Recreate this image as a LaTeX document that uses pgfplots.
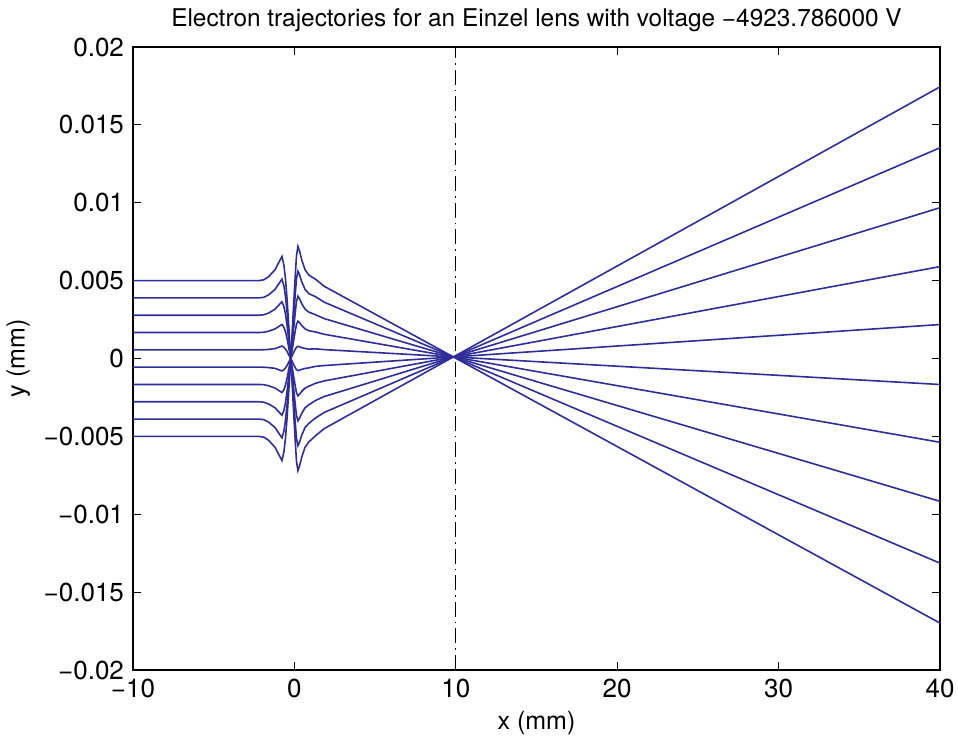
\documentclass[border=0pt]{standalone}
\usepackage{pgfplots}
\pgfplotsset{compat=1.18}
\usepackage{pgfplotstable}
\usepackage{fontspec}
\setmainfont{TeX Gyre Heros}
\definecolor{traj}{RGB}{46,46,150}

% Ten electron trajectories, y (mm) against x (mm); t1..t10 start at
% y0 = 0.005 ... -0.005 in equal steps.
\pgfplotstableread{
x      t1        t2        t3        t4        t5        t6        t7        t8        t9        t10
-10    0.005     0.003889  0.002778  0.001667  0.000556  -0.000556 -0.001667 -0.002778 -0.003889 -0.005
-2.2   0.005     0.003889  0.002778  0.001667  0.000556  -0.000556 -0.001667 -0.002778 -0.003889 -0.005
-1.9   0.00505   0.003928  0.002806  0.001683  0.000561  -0.000561 -0.001683 -0.002806 -0.003928 -0.00505
-1.6   0.00525   0.004083  0.002917  0.00175   0.000583  -0.000583 -0.00175  -0.002917 -0.004083 -0.00525
-1.2   0.0057    0.004433  0.003167  0.0019    0.000633  -0.000633 -0.0019   -0.003167 -0.004433 -0.0057
-0.9   0.0063    0.0049    0.0035    0.0021    0.00075   -0.00075  -0.0021   -0.0035   -0.0049   -0.0063
-0.77  0.00655   0.005094  0.003639  0.002183  0.0008    -0.0008   -0.002183 -0.003639 -0.005094 -0.00655
-0.65  0.006     0.004667  0.003333  0.002     0.00072   -0.00072  -0.002    -0.003333 -0.004667 -0.006
-0.55  0.0051    0.003967  0.002833  0.0017    0.0006    -0.0006   -0.0017   -0.002833 -0.003967 -0.0051
-0.45  0.00375   0.002917  0.002083  0.00125   0.00044   -0.00044  -0.00125  -0.002083 -0.002917 -0.00375
-0.35  0.0021    0.001633  0.001167  0.0007    0.00024   -0.00024  -0.0007   -0.001167 -0.001633 -0.0021
-0.25  0.0004    0.000311  0.000222  0.000133  0.000044  -0.000044 -0.000133 -0.000222 -0.000311 -0.0004
-0.15  -0.0014   -0.001089 -0.000778 -0.000467 -0.000156 0.000156  0.000467  0.000778  0.001089  0.0014
-0.05  -0.0034   -0.002644 -0.001889 -0.001133 -0.000378 0.000378  0.001133  0.001889  0.002644  0.0034
0.05   -0.00525  -0.004083 -0.002917 -0.00175  -0.000583 0.000583  0.00175   0.002917  0.004083  0.00525
0.13   -0.0066   -0.005133 -0.003667 -0.0022   -0.00072  0.00072   0.0022    0.003667  0.005133  0.0066
0.22   -0.0072   -0.0056   -0.004    -0.0024   -0.00078  0.00078   0.0024    0.004     0.0056    0.0072
0.32   -0.0069   -0.005367 -0.003833 -0.0023   -0.00075  0.00075   0.0023    0.003833  0.005367  0.0069
0.45   -0.00635  -0.004939 -0.003528 -0.002117 -0.0007   0.0007    0.002117  0.003528  0.004939  0.00635
0.66   -0.0057   -0.004433 -0.003167 -0.0019   -0.00064  0.00064   0.0019    0.003167  0.004433  0.0057
0.9    -0.00535  -0.004161 -0.002972 -0.001783 -0.0006   0.0006    0.001783  0.002972  0.004161  0.00535
1.3    -0.00497  -0.003825 -0.0027   -0.001595 -0.000507 0.000619  0.001704  0.002812  0.003971  0.005096
1.85   -0.004501 -0.003463 -0.002442 -0.001439 -0.000452 0.00057   0.001554  0.00256   0.003613  0.004634
9.85   0.0001    0.0001    0.0001    0.0001    0.0001    0.0001    0.0001    0.0001    0.0001    0.0001
40     0.01744   0.01353   0.00968   0.0059    0.00218   -0.00167  -0.00538  -0.00917  -0.01314  -0.01699
}\trajdata

\begin{document}
\begin{tikzpicture}
\begin{axis}[
  scale only axis,
  width=403.5pt, height=311.5pt,
  xmin=-10, xmax=40, ymin=-0.02, ymax=0.02,
  xtick={-10,0,10,20,30,40},
  xticklabels={−10,0,10,20,30,40},
  ytick={-0.02,-0.015,-0.01,-0.005,0,0.005,0.01,0.015,0.02},
  yticklabels={−0.02,−0.015,−0.01,−0.005,0,0.005,0.01,0.015,0.02},
  scaled y ticks=false,
  tick align=inside,
  major tick length=4pt,
  tick style={black, line width=0.6pt},
  axis line style={black, line width=0.6pt},
  font=\fontsize{12.5}{15}\selectfont,
  tick label style={font=\fontsize{13}{15}\selectfont},
  title={Electron trajectories for an Einzel lens with voltage −4923.786000 V},
  title style={font=\fontsize{12.2}{14}\selectfont, yshift=-2pt},
  xlabel={x (mm)},
  ylabel={y (mm)},
  xticklabel style={yshift=-1pt},
  yticklabel style={xshift=-1pt},
]
\addplot[black, line width=0.5pt, dash pattern=on 7.5pt off 2.5pt on 0.8pt off 2.5pt]
  coordinates {(10,-0.02) (10,0.02)};
\pgfplotsinvokeforeach{1,...,10}{
  \addplot[traj, line width=0.8pt] table[x=x, y=t#1]{\trajdata};
}
\end{axis}
\pgfresetboundingbox
\path ([xshift=-66.5pt,yshift=-33pt]current axis.south west)
  rectangle ([xshift=9pt,yshift=23.5pt]current axis.north east);
\end{tikzpicture}
\end{document}
